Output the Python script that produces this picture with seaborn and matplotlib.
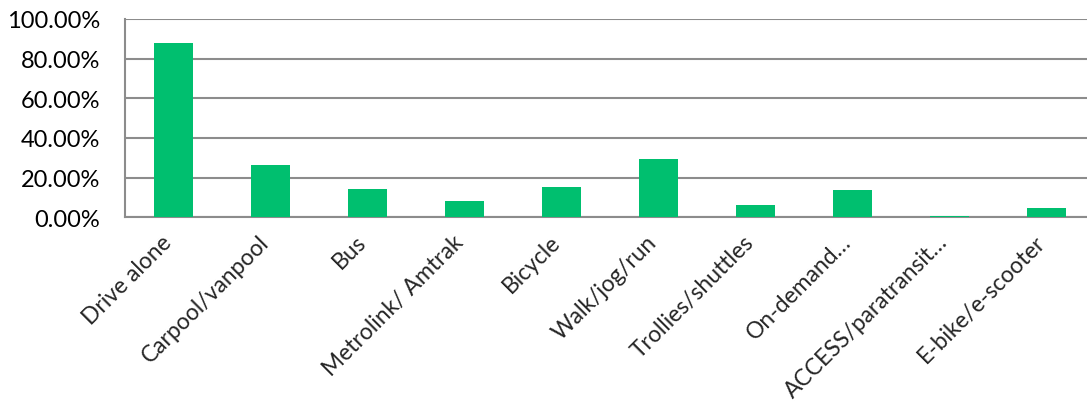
import numpy as np
import pandas as pd
import matplotlib.pyplot as plt
import matplotlib.ticker as mticker
import matplotlib.transforms as mtransforms
import seaborn as sns

# Commute mode shares
modes = ['Drive alone', 'Carpool/vanpool', 'Bus', 'Metrolink/ Amtrak', 'Bicycle',
         'Walk/jog/run', 'Trollies/shuttles', 'On-demand…', 'ACCESS/paratransit…',
         'E-bike/e-scooter']
shares = [0.877, 0.264, 0.141, 0.082, 0.154, 0.294, 0.060, 0.138, 0.007, 0.047]

df = pd.DataFrame({'mode': modes, 'share': shares})

sns.set_style('white')
plt.rcParams['font.family'] = ['Lato', 'DejaVu Sans']

grid_col = '#8C8C8C'
bar_col = '#00BF6F'

fig = plt.figure(figsize=(10.87, 4.06), dpi=100)
# axes runs past the right edge, like the cropped original
ax = fig.add_axes([125 / 1087, (406 - 218.3) / 406, 970 / 1087, 198.3 / 406])

sns.barplot(data=df, x='mode', y='share', color=bar_col, width=0.4,
            saturation=1, linewidth=0, ax=ax, zorder=3)

ax.set_xlim(-0.5, len(modes) - 0.5)
ax.set_ylim(0, 1.0)
ax.yaxis.set_major_locator(mticker.MultipleLocator(0.2))
ax.yaxis.set_major_formatter(mticker.FuncFormatter(lambda v, p: f'{v * 100:.2f}%'))
ax.grid(axis='y', color=grid_col, linewidth=1.5, zorder=0)
ax.set_axisbelow(True)

for side in ['top', 'right']:
    ax.spines[side].set_visible(False)
for side in ['left', 'bottom']:
    ax.spines[side].set_color(grid_col)
    ax.spines[side].set_linewidth(1.5)

ax.set_xlabel('')
ax.set_ylabel('')

# category boundary tick marks, labels at centres
ax.set_xticks(np.arange(-0.5, len(modes)), minor=True)
ax.tick_params(axis='x', which='minor', length=8, width=1.5, color=grid_col, direction='out')
ax.tick_params(axis='x', which='major', length=0, pad=15)
ax.tick_params(axis='y', length=8, width=1.5, color=grid_col, direction='out', pad=10,
               labelsize=17, labelcolor='black')
ax.set_xticks(range(len(modes)))
ax.set_xticklabels(modes, rotation=45, ha='right', va='center',
                   rotation_mode='anchor', fontsize=16.5)

# nudge rotated labels a little left so their ends sit on the bar centres
shift = mtransforms.ScaledTranslation(-5 / 100, 0, fig.dpi_scale_trans)
for lbl in ax.get_xticklabels():
    lbl.set_transform(lbl.get_transform() + shift)

fig.savefig('out.png', dpi=100)
